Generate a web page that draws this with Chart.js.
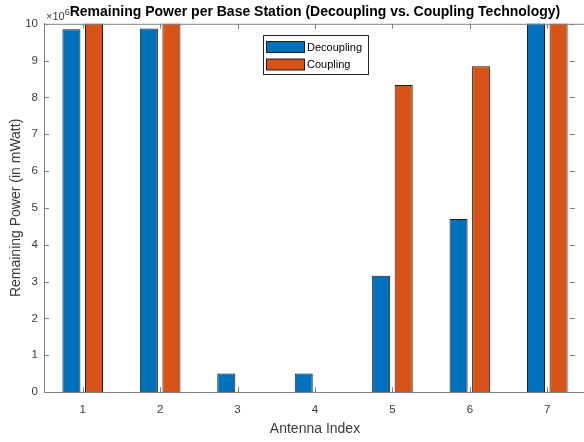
<!DOCTYPE html>
<html>
<head>
<meta charset="utf-8">
<script src="https://cdn.jsdelivr.net/npm/chart.js@4/dist/chart.umd.min.js"></script>
<style>
  html, body { margin: 0; padding: 0; background: #fff; overflow: hidden; }
  #wrap { width: 600px; height: 442px; }
</style>
</head>
<body>
<div id="wrap"><canvas id="canvas" width="600" height="442"></canvas></div>
<script>
// values in units of 10^6 mWatt
const antennaIndex = ["1", "2", "3", "4", "5", "6", "7"];
const decoupling = [9.85, 9.87, 0.5, 0.5, 3.16, 4.7, 10.5];
const coupling = [10.5, 10.5, 0, 0, 8.34, 8.85, 10.5];
const yTicks = [0, 1, 2, 3, 4, 5, 6, 7, 8, 9, 10];
const yExponent = "6";

const axisColor = "#808080";
const textColor = "#3a3a3a";
const fontFamily = "'Liberation Sans', Arial, Helvetica, sans-serif";

// matlab style box: inward ticks, top line, x10^6 marker, legend
const matlabAxes = {
    id: "matlabAxes",
    afterDraw(chart) {
        const ctx = chart.ctx;
        const area = chart.chartArea;
        const xs = chart.scales.x;
        const ys = chart.scales.y;
        ctx.save();
        ctx.strokeStyle = axisColor;
        ctx.lineWidth = 1;
        ctx.beginPath();
        ctx.moveTo(area.left, area.top + 0.5);
        ctx.lineTo(area.right, area.top + 0.5);
        for (let i = 0; i < antennaIndex.length; i++) {
            const x = Math.round(xs.getPixelForValue(i)) + 0.5;
            ctx.moveTo(x, area.top);
            ctx.lineTo(x, area.top + 5);
            ctx.moveTo(x, area.bottom);
            ctx.lineTo(x, area.bottom - 5);
        }
        yTicks.forEach(v => {
            const y = Math.round(ys.getPixelForValue(v)) + 0.5;
            ctx.moveTo(area.left, y);
            ctx.lineTo(area.left + 5, y);
            ctx.moveTo(area.right - 16, y);
            ctx.lineTo(area.right - 11, y);
        });
        ctx.stroke();

        // exponent marker
        ctx.fillStyle = textColor;
        ctx.textBaseline = "alphabetic";
        ctx.textAlign = "left";
        ctx.font = "11px " + fontFamily;
        ctx.fillText("\u00d710", area.left + 2, area.top - 4);
        const w = ctx.measureText("\u00d710").width;
        ctx.font = "9px " + fontFamily;
        ctx.fillText(yExponent, area.left + 2 + w, area.top - 9);

        // legend, north location
        const boxW = 105, boxH = 39;
        const bx = Math.round((area.left + area.right) / 2 - boxW / 2) + 0.5;
        const by = Math.round(area.top + 11) + 0.5;
        ctx.fillStyle = "#fff";
        ctx.fillRect(bx, by, boxW, boxH);
        ctx.strokeStyle = "#262626";
        ctx.strokeRect(bx, by, boxW, boxH);
        ctx.font = "11px " + fontFamily;
        ctx.textBaseline = "middle";
        chart.data.datasets.forEach((ds, i) => {
            const cy = by + 11.5 + i * 17.5;
            ctx.fillStyle = ds.backgroundColor;
            ctx.fillRect(bx + 3, cy - 5.5, 38, 11);
            ctx.strokeStyle = "#1a1a1a";
            ctx.strokeRect(bx + 3, cy - 5.5, 38, 11);
            ctx.fillStyle = "#000";
            ctx.fillText(ds.label, bx + 43.5, cy + 0.5);
        });
        ctx.restore();
    }
};

const ctx = document.getElementById("canvas").getContext("2d");
new Chart(ctx, {
    type: "bar",
    data: {
        labels: antennaIndex,
        datasets: [{
            label: "Decoupling",
            data: decoupling,
            backgroundColor: "#0072BD",
            borderColor: "#1a1a1a",
            borderWidth: 1,
            clip: 0
        }, {
            label: "Coupling",
            data: coupling,
            backgroundColor: "#D95319",
            borderColor: "#1a1a1a",
            borderWidth: 1,
            clip: 0
        }]
    },
    options: {
        responsive: false,
        animation: false,
        devicePixelRatio: 1,
        categoryPercentage: 0.583,
        barPercentage: 0.8,
        layout: { padding: { left: 0, right: 14, top: 0, bottom: 0 } },
        scales: {
            x: {
                afterFit: s => { s.height = 50; },
                grid: { display: false, drawTicks: false },
                border: { display: true, color: axisColor, width: 1 },
                ticks: { color: textColor, padding: 11, font: { size: 11.5, family: fontFamily } },
                title: {
                    display: true,
                    text: "Antenna Index",
                    color: textColor,
                    font: { size: 14, family: fontFamily },
                    padding: { top: 0, bottom: 4 }
                }
            },
            y: {
                min: 0,
                max: 10,
                afterFit: s => { s.width = 44; },
                afterBuildTicks: s => { s.ticks = yTicks.map(v => ({ value: v })); },
                grid: { display: false, drawTicks: false },
                border: { display: true, color: axisColor, width: 1 },
                ticks: { color: textColor, padding: 6, font: { size: 11.5, family: fontFamily } },
                title: {
                    display: true,
                    text: "Remaining Power (in mWatt)",
                    color: textColor,
                    font: { size: 14, family: fontFamily },
                    padding: { top: 8, bottom: 0 }
                }
            }
        },
        plugins: {
            legend: { display: false },
            tooltip: { enabled: false },
            title: {
                display: true,
                fullSize: false,
                text: "Remaining Power per Base Station (Decoupling vs. Coupling Technology)",
                color: "#000",
                font: { size: 14, weight: "bold", family: fontFamily },
                padding: { top: 4, bottom: 3 }
            }
        }
    },
    plugins: [matlabAxes]
});
</script>
</body>
</html>
